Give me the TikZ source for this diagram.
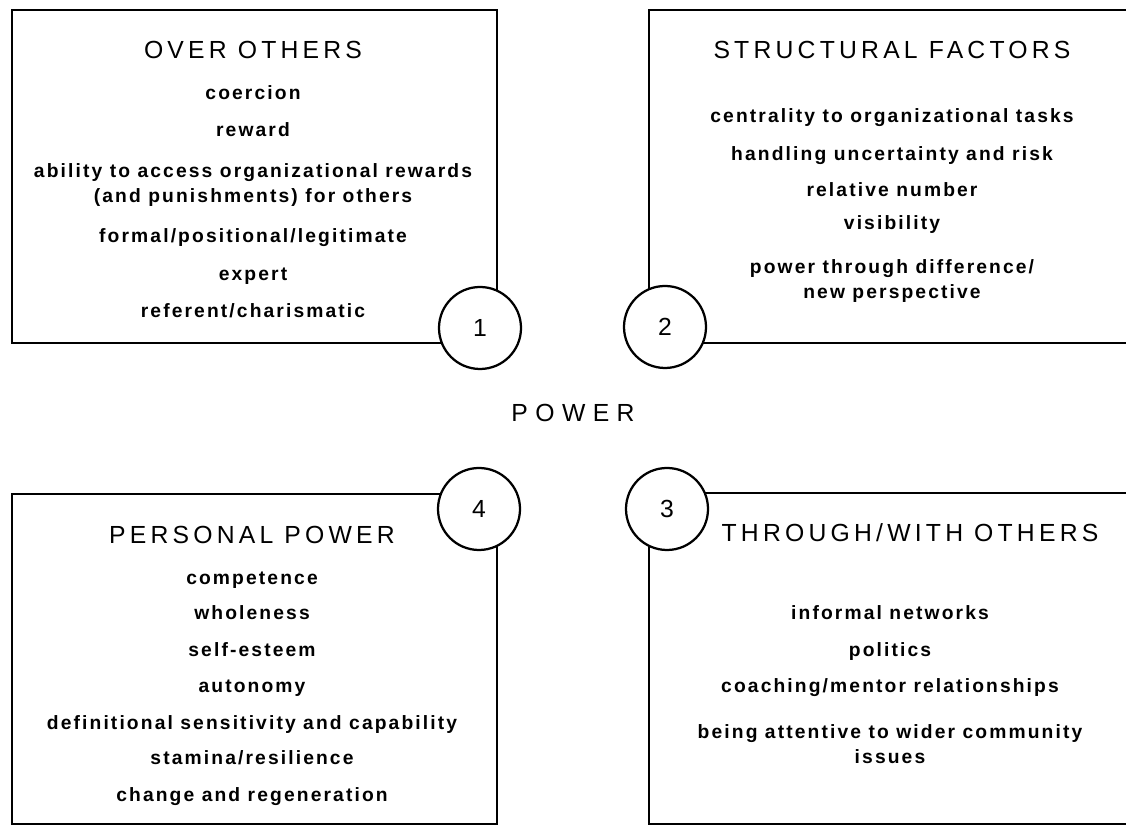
\documentclass[tikz,border=0pt]{standalone}
\usepackage{fontspec}
\setmainfont{Liberation Sans}
\newfontfamily\titulofonte[LetterSpace=17]{Liberation Sans}
\newfontfamily\poderfonte[LetterSpace=30]{Liberation Sans}
\newfontfamily\itemfonte[LetterSpace=11]{Liberation Sans}
\usetikzlibrary{shapes}
\tikzstyle{quadro} = [rectangle, draw, line width=1.3pt]
\tikzstyle{numero} = [circle, draw, fill=white, line width=1.6pt, minimum size=2.05cm, inner sep=0pt, font=\fontsize{17.6}{21}\selectfont]
\tikzstyle{titulo} = [anchor=base, font=\titulofonte\fontsize{17.6}{21}\selectfont]
\tikzstyle{item} = [anchor=base, align=center, font=\itemfonte\bfseries\fontsize{13.7}{17.8}\selectfont]

\begin{document}
\begin{tikzpicture} %ambiente de desenho, 1 cm = 40 px da folha

\path[use as bounding box, clip] (0,0) rectangle (28.15,20.65);

%---------------------------------------------
%Os quatro quadros e os círculos numerados
%---------------------------------------------

\node [quadro, minimum width=12.125cm, minimum height=8.325cm] (q1) at (6.3625,16.2375) {};
\node [quadro, minimum width=12.525cm, minimum height=8.325cm] (q2) at (22.4875,16.2375) {};
\node [quadro, minimum width=12.525cm, minimum height=8.275cm] (q3) at (22.4875,4.1875) {};
\node [quadro, minimum width=12.125cm, minimum height=8.25cm] (q4) at (6.3625,4.175) {};
%quadros 2 e 3 passam da borda direita da folha

\node [numero] (n1) at (12.0,12.45) {1};
\node [numero] (n2) at (16.625,12.475) {2};
\node [numero] (n3) at (16.675,7.925) {3};
\node [numero] (n4) at (11.975,7.925) {4};
%círculos brancos por cima dos cantos dos quadros

\node [titulo, font=\poderfonte\fontsize{17.6}{21}\selectfont] (poder) at (14.325,10.1) {POWER};

%---------------------------------------------
%Quadro 1 (nos textos de duas linhas, a base é a da última linha)
%---------------------------------------------
\node [titulo] (t1) at (6.325,19.175) {OVER OTHERS};
\node [item] (coercao) at (6.325,18.15) {coercion};
\node [item] (recompensa) at (6.325,17.225) {reward};
\node [item] (acesso) at (6.325,15.575) {ability to access organizational rewards\\(and punishments) for others};
\node [item] (formal) at (6.325,14.575) {formal/positional/legitimate};
\node [item] (perito) at (6.325,13.625) {expert};
\node [item] (carisma) at (6.325,12.7) {referent/charismatic};

%---------------------------------------------
%Quadro 2
%---------------------------------------------
\node [titulo] (t2) at (22.3,19.175) {STRUCTURAL FACTORS};
\node [item] (centralidade) at (22.3,17.575) {centrality to organizational tasks};
\node [item] (incerteza) at (22.3,16.625) {handling uncertainty and risk};
\node [item] (numero) at (22.3,15.725) {relative number};
\node [item] (visibilidade) at (22.3,14.9) {visibility};
\node [item] (diferenca) at (22.3,13.175) {power through difference/\\new perspective};

%---------------------------------------------
%Quadro 3
%---------------------------------------------
\node [titulo] (t3) at (22.75,7.1) {THROUGH/WITH OTHERS};
\node [item] (redes) at (22.25,5.15) {informal networks};
\node [item] (politica) at (22.25,4.225) {politics};
\node [item] (mentor) at (22.25,3.325) {coaching/mentor relationships};
\node [item] (comunidade) at (22.25,1.55) {being attentive to wider community\\issues};

%---------------------------------------------
%Quadro 4
%---------------------------------------------
\node [titulo] (t4) at (6.3,7.05) {PERSONAL POWER};
\node [item] (competencia) at (6.3,6.025) {competence};
\node [item] (inteireza) at (6.3,5.15) {wholeness};
\node [item] (autoestima) at (6.3,4.225) {self-esteem};
\node [item] (autonomia) at (6.3,3.325) {autonomy};
\node [item] (definicao) at (6.3,2.4) {definitional sensitivity and capability};
\node [item] (vigor) at (6.3,1.525) {stamina/resilience};
\node [item] (mudanca) at (6.3,0.6) {change and regeneration};

\end{tikzpicture}
\end{document}
